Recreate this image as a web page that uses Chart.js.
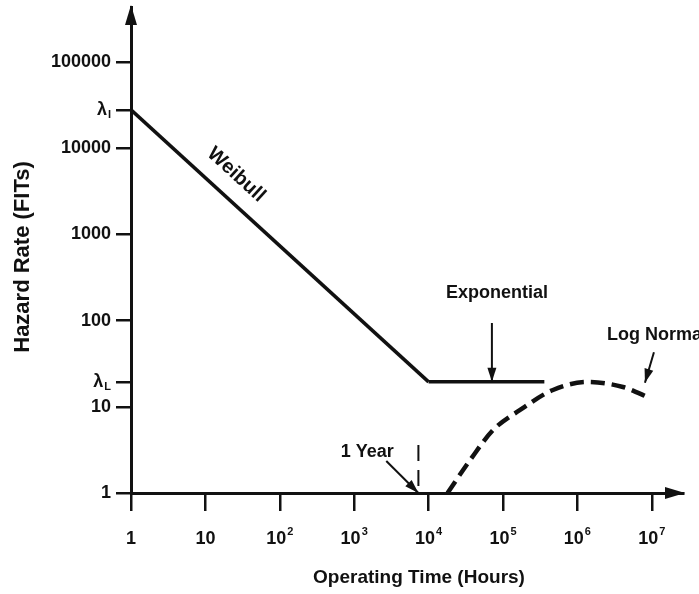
<!DOCTYPE html>
<html lang="en">
<head>
<meta charset="UTF-8">
<title>Hazard Rate</title>
<script src="https://cdn.jsdelivr.net/npm/chart.js@4.4.0/dist/chart.umd.min.js"></script>
<style>
  html, body { margin: 0; padding: 0; background: #fff; }
  #wrap { width: 699px; height: 594px; position: relative; }
</style>
</head>
<body>
<div id="wrap"><canvas id="myChart"></canvas></div>
<script>
// hours on x, FITs on y
const weibullHours = [1, 10000];
const weibullFits = [28000, 19.5];
const exponentialHours = [10000, 360000];
const exponentialFits = [19.5, 19.5];
const logNormalHours = [18000, 36000, 74000, 170000, 470000, 1350000, 4100000, 9500000];
const logNormalFits = [1, 2.4, 5.4, 9.2, 15.7, 19.4, 17, 12.6];
const oneYearHours = [7300, 7300];
const oneYearFits = [3.6, 1];

const xTickValues = [1, 10, 100, 1000, 10000, 100000, 1000000, 10000000];
const xTickLabels = ['1', '10', '10^2', '10^3', '10^4', '10^5', '10^6', '10^7'];
const yTickValues = [1, 10, 19.5, 100, 1000, 10000, 28000, 100000];
const yTickLabels = ['1', '10', 'λ_L', '100', '1000', '10000', 'λ_I', '100000'];

const ink = '#111';
const family = '"Liberation Sans", Arial, sans-serif';

function points(xs, ys) {
    return xs.map((x, i) => ({x: x, y: ys[i]}));
}

// labels and arrows, placed in data units
const notes = [
    {text: 'Exponential', x: 83000, y: 209, align: 'center'},
    {text: 'Log Normal', x: 2500000, y: 68, align: 'left'},
    {text: '1 Year', x: 1500, y: 3.0, align: 'center'}
];
const arrows = [
    {from: [71000, 94], to: [71000, 19.5]},
    {from: [10700000, 43], to: [8100000, 19]},
    {from: [2700, 2.35], to: [7300, 1]}
];

function arrow(ctx, x1, y1, x2, y2, len, half) {
    ctx.beginPath();
    ctx.moveTo(x1, y1);
    ctx.lineTo(x2, y2);
    ctx.stroke();
    const a = Math.atan2(y2 - y1, x2 - x1);
    ctx.beginPath();
    ctx.moveTo(x2, y2);
    ctx.lineTo(x2 - len * Math.cos(a) + half * Math.sin(a), y2 - len * Math.sin(a) - half * Math.cos(a));
    ctx.lineTo(x2 - len * Math.cos(a) - half * Math.sin(a), y2 - len * Math.sin(a) + half * Math.cos(a));
    ctx.closePath();
    ctx.fill();
}

const drawExtras = {
    id: 'drawExtras',
    afterDraw(chart) {
        const ctx = chart.ctx;
        const xs = chart.scales.x;
        const ys = chart.scales.y;
        const area = chart.chartArea;
        ctx.save();
        ctx.fillStyle = ink;
        ctx.strokeStyle = ink;

        // axis arrow heads
        ctx.beginPath();
        ctx.moveTo(area.left, area.top - 2);
        ctx.lineTo(area.left - 6, area.top + 18);
        ctx.lineTo(area.left + 6, area.top + 18);
        ctx.closePath();
        ctx.fill();
        ctx.beginPath();
        ctx.moveTo(area.right + 2, area.bottom);
        ctx.lineTo(area.right - 18, area.bottom - 6);
        ctx.lineTo(area.right - 18, area.bottom + 6);
        ctx.closePath();
        ctx.fill();

        // y tick labels
        ctx.textBaseline = 'middle';
        ctx.textAlign = 'right';
        yTickValues.forEach((v, i) => {
            const py = ys.getPixelForValue(v);
            const right = area.left - 20;
            const parts = yTickLabels[i].split('_');
            if (parts.length > 1) {
                ctx.font = 'bold 11px ' + family;
                const sw = ctx.measureText(parts[1]).width;
                ctx.fillText(parts[1], right, py + 5);
                ctx.font = 'bold 18px ' + family;
                ctx.fillText(parts[0], right - sw - 1, py);
            } else {
                ctx.font = 'bold 18px ' + family;
                ctx.fillText(parts[0], right, py);
            }
        });

        // x tick labels
        ctx.textAlign = 'left';
        xTickValues.forEach((v, i) => {
            const px = xs.getPixelForValue(v);
            const py = area.bottom + 46;
            const parts = xTickLabels[i].split('^');
            ctx.font = 'bold 18px ' + family;
            const bw = ctx.measureText(parts[0]).width;
            let ew = 0;
            if (parts.length > 1) {
                ctx.font = 'bold 11px ' + family;
                ew = ctx.measureText(parts[1]).width + 1;
            }
            const start = px - (bw + ew) / 2;
            ctx.font = 'bold 18px ' + family;
            ctx.fillText(parts[0], start, py);
            if (parts.length > 1) {
                ctx.font = 'bold 11px ' + family;
                ctx.fillText(parts[1], start + bw + 1, py - 7);
            }
        });

        // axis titles
        ctx.textAlign = 'center';
        ctx.font = 'bold 19px ' + family;
        ctx.fillText('Operating Time (Hours)', 419, 578);
        ctx.save();
        ctx.translate(23, 257);
        ctx.rotate(-Math.PI / 2);
        ctx.font = 'bold 22px ' + family;
        ctx.fillText('Hazard Rate (FITs)', 0, 0);
        ctx.restore();

        // notes
        ctx.font = 'bold 18px ' + family;
        notes.forEach(n => {
            ctx.textAlign = n.align;
            ctx.fillText(n.text, xs.getPixelForValue(n.x), ys.getPixelForValue(n.y));
        });

        // Weibull label along its line
        const p0 = [xs.getPixelForValue(weibullHours[0]), ys.getPixelForValue(weibullFits[0])];
        const p1 = [xs.getPixelForValue(weibullHours[1]), ys.getPixelForValue(weibullFits[1])];
        const ang = Math.atan2(p1[1] - p0[1], p1[0] - p0[0]);
        const t = Math.log10(16) / Math.log10(weibullHours[1]);
        const ax = p0[0] + t * (p1[0] - p0[0]);
        const ay = p0[1] + t * (p1[1] - p0[1]);
        ctx.save();
        ctx.translate(ax + 23 * Math.sin(ang), ay - 23 * Math.cos(ang));
        ctx.rotate(ang);
        ctx.textAlign = 'center';
        ctx.font = 'bold 20px ' + family;
        ctx.fillText('Weibull', 0, 0);
        ctx.restore();

        // arrows
        ctx.lineWidth = 2;
        arrows.forEach(a => {
            arrow(ctx,
                xs.getPixelForValue(a.from[0]), ys.getPixelForValue(a.from[1]),
                xs.getPixelForValue(a.to[0]), ys.getPixelForValue(a.to[1]), 14, 4.5);
        });
        ctx.restore();
    }
};

const solid = {showLine: true, pointRadius: 0, borderColor: ink, borderWidth: 3.5, fill: false, tension: 0};

const ctx = document.getElementById('myChart').getContext('2d');
const myChart = new Chart(ctx, {
    type: 'scatter',
    data: {
        datasets: [
            Object.assign({label: 'Weibull', data: points(weibullHours, weibullFits)}, solid),
            Object.assign({label: 'Exponential', data: points(exponentialHours, exponentialFits)}, solid),
            Object.assign({label: 'Log Normal', data: points(logNormalHours, logNormalFits)}, solid,
                {borderDash: [14, 7], borderWidth: 4.5, cubicInterpolationMode: 'monotone'}),
            Object.assign({label: '1 Year', data: points(oneYearHours, oneYearFits)}, solid,
                {borderDash: [16, 9], borderWidth: 2})
        ]
    },
    options: {
        responsive: true,
        maintainAspectRatio: false,
        animation: false,
        layout: {padding: {left: 116, right: 16, top: 7, bottom: 83}},
        plugins: {legend: {display: false}, tooltip: {enabled: false}},
        scales: {
            x: {
                type: 'logarithmic',
                min: 1,
                max: Math.pow(10, 7.42),
                bounds: 'data',
                afterBuildTicks: s => { s.ticks = xTickValues.map(v => ({value: v})); },
                ticks: {display: false},
                grid: {drawOnChartArea: false, drawTicks: true, tickLength: 18, lineWidth: 2.5, color: ink},
                border: {display: true, width: 3, color: ink}
            },
            y: {
                type: 'logarithmic',
                min: 1,
                max: Math.pow(10, 5.64),
                bounds: 'data',
                afterBuildTicks: s => { s.ticks = yTickValues.map(v => ({value: v})); },
                ticks: {display: false},
                grid: {drawOnChartArea: false, drawTicks: true, tickLength: 15, lineWidth: 2.5, color: ink},
                border: {display: true, width: 3, color: ink}
            }
        }
    },
    plugins: [drawExtras]
});
</script>
</body>
</html>
